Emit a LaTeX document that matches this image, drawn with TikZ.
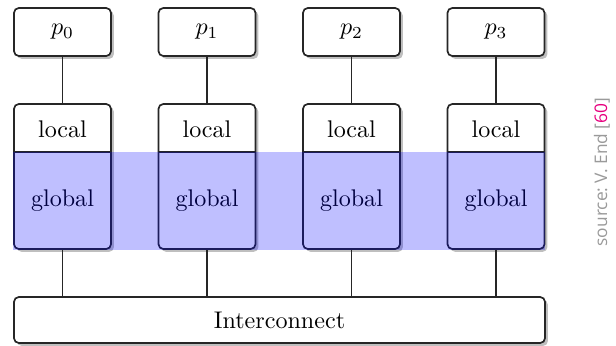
\documentclass[tikz,border=0pt]{standalone}
\usepackage{fontspec}
\newfontfamily\srcfont{Open Sans}
\usetikzlibrary{shadows}
\definecolor{srcgray}{HTML}{9A9A9A}
\definecolor{srcpink}{HTML}{E6007E}
\def\u{0.415pt}
\begin{document}
\begin{tikzpicture}[x=0.415pt,y=-0.415pt,
  boxshadow/.style={drop shadow={shadow xshift=1.2pt,shadow yshift=-1.2pt,opacity=0.25,fill=black}},
  pbox/.style={draw=black!85,line width=0.7pt,rounded corners=2pt,fill=white,boxshadow,
    minimum width=97*\u,minimum height=48*\u,inner sep=0pt},
  membox/.style={draw=black!85,line width=0.7pt,rounded corners=2pt,fill=white,boxshadow,
    minimum width=97*\u,minimum height=145*\u,inner sep=0pt},
  icbox/.style={draw=black!85,line width=0.7pt,rounded corners=2pt,fill=white,boxshadow,
    minimum width=531*\u,minimum height=46*\u,inner sep=0pt},
  lbl/.style={inner sep=0pt},
  conn/.style={draw=black!85,line width=0.7pt}]
\useasboundingbox (0,0) rectangle (616,345);
\node[icbox] (ic) at (279.5,320) {Interconnect};
\foreach \i/\x in {0/62.5,1/207,2/351.5,3/496}{
  \node[pbox] (p\i) at (\x,32) {$p_{\i}$};
  \node[membox] (mem\i) at (\x,176.5) {};
  \node[lbl] (loc\i) at (\x,129) {local};
  \node[lbl] (glob\i) at (\x,201) {global};
  \draw[conn] (mem\i.west |- 0,152) -- (mem\i.east |- 0,152);
  \draw[conn] (p\i) -- (mem\i);
  \draw[conn] (mem\i) -- (mem\i |- ic.north);
}
\fill[blue,opacity=0.25] (mem0.west |- 0,152) rectangle (mem3.south east);
\node[rotate=90,text=srcgray,font=\srcfont\fontsize{7.2}{8}\selectfont,inner sep=0pt] (src) at (602,172)
  {source:\ V.\ End [{\color{srcpink}60}]};
\end{tikzpicture}
\end{document}
